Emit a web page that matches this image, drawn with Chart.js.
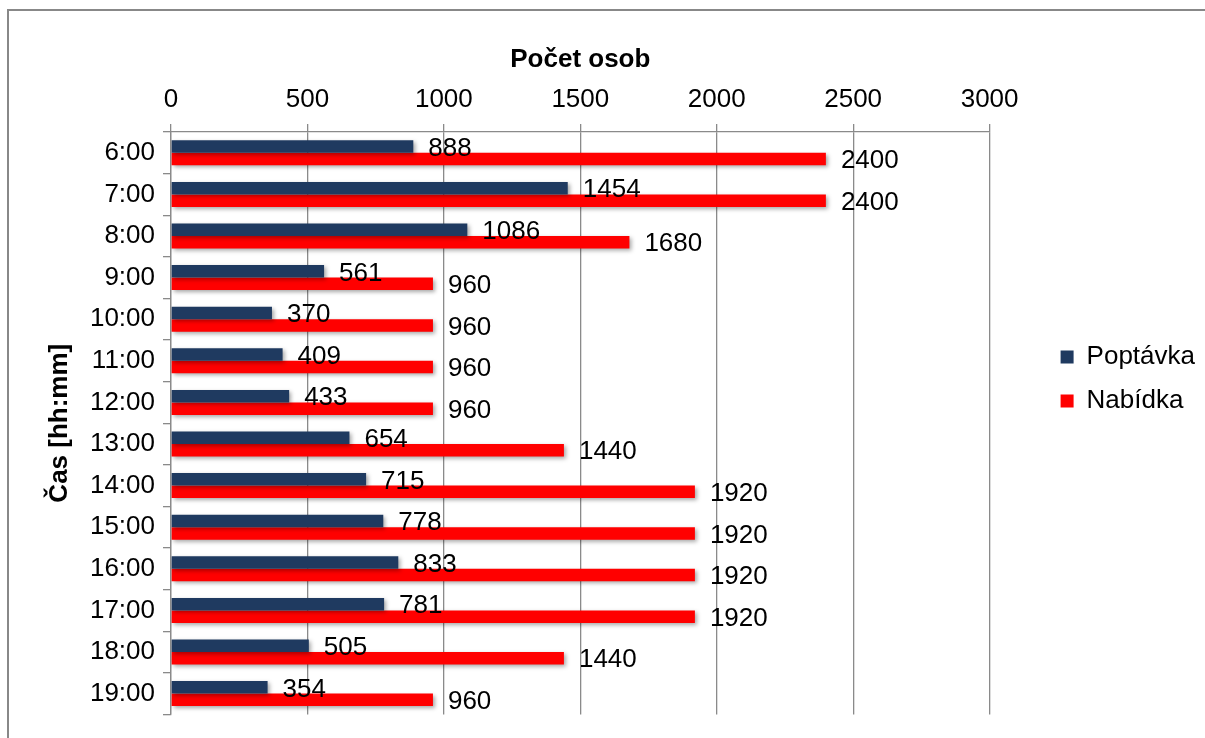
<!DOCTYPE html>
<html>
<head>
<meta charset="utf-8">
<script src="https://cdn.jsdelivr.net/npm/chart.js@4"></script>
<style>
    html, body { margin: 0; padding: 0; background: #fff; overflow: hidden; }
    #wrap { position: relative; width: 1205px; height: 738px; }
    #frame { position: absolute; left: 7px; top: 9px; width: 1300px; height: 900px; border: 2px solid #888; }
    canvas { position: absolute; left: 0; top: 0; }
</style>
</head>
<body>
<div id="wrap">
    <div id="frame"></div>
    <canvas id="chart" width="1205" height="738"></canvas>
</div>
<script>
var categories = ['6:00', '7:00', '8:00', '9:00', '10:00', '11:00', '12:00', '13:00', '14:00', '15:00', '16:00', '17:00', '18:00', '19:00'];
var poptavka = [888, 1454, 1086, 561, 370, 409, 433, 654, 715, 778, 833, 781, 505, 354];
var nabidka = [2400, 2400, 1680, 960, 960, 960, 960, 1440, 1920, 1920, 1920, 1920, 1440, 960];
var xTicks = [0, 500, 1000, 1500, 2000, 2500, 3000];

var font = 'Liberation Sans, Arial, sans-serif';
var gridColor = '#8a8a8a';

// soft drop shadow under the bars, like the original
var barShadow = {
    id: 'barShadow',
    beforeDatasetsDraw: function (chart) {
        var ctx = chart.ctx;
        ctx.save();
        ctx.shadowColor = 'rgba(0,0,0,0.35)';
        ctx.shadowBlur = 4;
        ctx.shadowOffsetX = 2;
        ctx.shadowOffsetY = 2;
    },
    afterDatasetsDraw: function (chart) {
        chart.ctx.restore();
    }
};

// value labels right of each bar
var valueLabels = {
    id: 'valueLabels',
    afterDatasetsDraw: function (chart) {
        var ctx = chart.ctx;
        ctx.save();
        ctx.font = '26px ' + font;
        ctx.fillStyle = '#000';
        ctx.textAlign = 'left';
        ctx.textBaseline = 'middle';
        chart.data.datasets.forEach(function (ds, i) {
            chart.getDatasetMeta(i).data.forEach(function (bar, j) {
                ctx.fillText(ds.data[j], bar.x + 15, bar.y + 2);
            });
        });
        ctx.restore();
    }
};

// push the legend away from the plot
var legendShift = {
    id: 'legendShift',
    afterLayout: function (chart) {
        var lg = chart.legend;
        lg.left += 53;
        lg.right += 53;
        lg.top += 15;
        lg.bottom += 15;
    }
};

new Chart(document.getElementById('chart'), {
    type: 'bar',
    data: {
        labels: categories,
        datasets: [{
            label: 'Poptávka',
            data: poptavka,
            backgroundColor: '#1f3a60'
        }, {
            label: 'Nabídka',
            data: nabidka,
            backgroundColor: '#ff0000'
        }]
    },
    options: {
        indexAxis: 'y',
        responsive: false,
        animation: false,
        layout: { padding: { top: 12, left: 10, right: 53, bottom: 22 } },
        datasets: { bar: { categoryPercentage: 0.6, barPercentage: 1.0 } },
        scales: {
            x: {
                position: 'top',
                min: 0,
                max: 3000,
                afterBuildTicks: function (scale) {
                    scale.ticks = xTicks.map(function (v) { return { value: v }; });
                },
                afterFit: function (scale) { scale.height = 120; },
                ticks: {
                    color: '#000',
                    font: { family: font, size: 26 },
                    padding: 9,
                    maxRotation: 0,
                    callback: function (value) { return String(value); }
                },
                grid: { color: gridColor, lineWidth: 1.3, tickLength: 8 },
                border: { color: gridColor, width: 1.3 },
                title: { display: true, text: 'Počet osob', color: '#000', font: { family: font, size: 26, weight: 'bold' }, padding: { top: 32, bottom: 0 } }
            },
            y: {
                afterFit: function (scale) { scale.width = 161; },
                ticks: { color: '#000', font: { family: font, size: 26 }, padding: 8 },
                grid: { offset: true, drawOnChartArea: false, color: gridColor, lineWidth: 1.3, tickLength: 8 },
                border: { color: gridColor, width: 1.3 },
                title: { display: true, text: 'Čas [hh:mm]', color: '#000', font: { family: font, size: 26, weight: 'bold' }, padding: { top: 34, bottom: 0 } }
            }
        },
        plugins: {
            legend: {
                position: 'right',
                labels: {
                    color: '#000',
                    font: { family: font, size: 26 },
                    boxWidth: 13,
                    boxHeight: 13,
                    padding: 18
                }
            },
            tooltip: { enabled: false }
        }
    },
    plugins: [barShadow, valueLabels, legendShift]
});
</script>
</body>
</html>
